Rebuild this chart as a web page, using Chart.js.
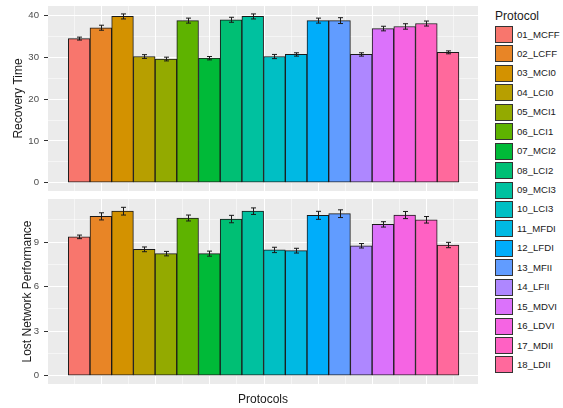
<!DOCTYPE html>
<html>
<head>
<meta charset="utf-8">
<script src="https://cdn.jsdelivr.net/npm/chart.js@4/dist/chart.umd.min.js"></script>
<style>
  body { margin: 0; background: #fff; }
  #wrap { position: relative; width: 563px; height: 408px; font-family: "Liberation Sans", Arial, sans-serif; }
  #topChart { position: absolute; left: 0; top: 0; }
  #bottomChart { position: absolute; left: 0; top: 195px; }
  .lg-title { position: absolute; left: 495px; top: 9px; font-size: 12px; line-height: 14px; color: #1a1a1a; }
  .lg-key { position: absolute; left: 495px; width: 18px; height: 17px; box-sizing: border-box; border: 1px solid #333; }
  .lg-label { position: absolute; left: 517px; font-size: 9.6px; line-height: 12px; color: #1a1a1a; white-space: nowrap; }
</style>
</head>
<body>
<div id="wrap">
  <canvas id="topChart" width="490" height="195"></canvas>
  <canvas id="bottomChart" width="490" height="213"></canvas>
  <div id="legend"></div>
</div>
<script>
// datos
const protocols = ['01_MCFF', '02_LCFF', '03_MCI0', '04_LCI0', '05_MCI1', '06_LCI1', '07_MCI2', '08_LCI2', '09_MCI3',
  '10_LCI3', '11_MFDI', '12_LFDI', '13_MFII', '14_LFII', '15_MDVI', '16_LDVI', '17_MDII', '18_LDII'];
const recoveryTime = [34.5, 37.1, 39.8, 30.2, 29.6, 38.8, 29.8, 39.0, 39.8, 30.2, 30.7, 38.8, 38.8, 30.7, 36.9, 37.4, 38.1, 31.2];
const recoveryErr = [0.35, 0.6, 0.6, 0.45, 0.45, 0.6, 0.4, 0.6, 0.6, 0.5, 0.4, 0.6, 0.7, 0.4, 0.55, 0.65, 0.6, 0.35];
const lostPerf = [9.35, 10.73, 11.08, 8.51, 8.22, 10.62, 8.22, 10.55, 11.08, 8.47, 8.42, 10.8, 10.91, 8.75, 10.19, 10.82, 10.5, 8.8];
const lostErr = [0.12, 0.24, 0.26, 0.16, 0.15, 0.2, 0.17, 0.25, 0.22, 0.18, 0.16, 0.27, 0.26, 0.15, 0.18, 0.24, 0.22, 0.18];

// ticks (mayores y menores, como en ggplot)
const xGridMajor = [2.02, 4.52, 7.02, 9.52, 12.02, 14.52, 17.02];
const xGridMinor = [0.77, 3.27, 5.77, 8.27, 10.77, 13.27, 15.77, 18.27];
const recoveryTicks = [0, 5, 10, 15, 20, 25, 30, 35, 40];
const recoveryMajor = [0, 10, 20, 30, 40];
const lostTicks = [0, 1.5, 3, 4.5, 6, 7.5, 9, 10.5];
const lostMajor = [0, 3, 6, 9];

Chart.defaults.font.family = '"Liberation Sans", Arial, sans-serif';

// paleta hue de ggplot (hcl, c=100, l=65)
function hclToHex(h, c, l) {
  const hr = h * Math.PI / 180;
  const U = c * Math.cos(hr), V = c * Math.sin(hr);
  const Y = Math.pow((l + 16) / 116, 3);
  const Xn = 0.95047, Yn = 1, Zn = 1.08883;
  const den = Xn + 15 * Yn + 3 * Zn;
  const un = 4 * Xn / den, vn = 9 * Yn / den;
  const u = U / (13 * l) + un, v = V / (13 * l) + vn;
  const X = Y * 9 * u / (4 * v);
  const Z = Y * (12 - 3 * u - 20 * v) / (4 * v);
  const lin = [
    3.2404542 * X - 1.5371385 * Y - 0.4985314 * Z,
    -0.9692660 * X + 1.8760108 * Y + 0.0415560 * Z,
    0.0556434 * X - 0.2040259 * Y + 1.0572252 * Z
  ];
  return '#' + lin.map(cv => {
    let g = cv <= 0.0031308 ? 12.92 * cv : 1.055 * Math.pow(cv, 1 / 2.4) - 0.055;
    g = Math.min(1, Math.max(0, g));
    return Math.round(g * 255).toString(16).padStart(2, '0');
  }).join('');
}
const palette = protocols.map((_, i) => hclToHex(15 + i * 360 / protocols.length, 100, 65));

const panelBg = {
  id: 'panelBg',
  beforeDraw(chart) {
    const { ctx, chartArea: a } = chart;
    ctx.save();
    ctx.fillStyle = '#EBEBEB';
    ctx.fillRect(a.left, a.top, a.right - a.left, a.bottom - a.top);
    ctx.restore();
  }
};

const errorBars = {
  id: 'errorBars',
  afterDatasetsDraw(chart) {
    const { ctx, scales: { x, y } } = chart;
    const ds = chart.data.datasets[0];
    ctx.save();
    ctx.strokeStyle = '#1a1a1a';
    ctx.lineWidth = 1;
    ds.data.forEach((p, i) => {
      const e = ds.errors[i];
      const px = Math.round(x.getPixelForValue(p.x)) + 0.5;
      const y1 = y.getPixelForValue(p.y - e);
      const y2 = y.getPixelForValue(p.y + e);
      ctx.beginPath();
      ctx.moveTo(px, y1); ctx.lineTo(px, y2);
      ctx.moveTo(px - 2.5, y1); ctx.lineTo(px + 2.5, y1);
      ctx.moveTo(px - 2.5, y2); ctx.lineTo(px + 2.5, y2);
      ctx.stroke();
    });
    ctx.restore();
  }
};

function makePanel(canvasId, values, errs, yMin, yMax, yTicks, yMajor, yTitle, titlePad, showXTitle, padding) {
  const isMajorY = v => yMajor.includes(v);
  const xTicks = xGridMinor.concat(xGridMajor).sort((a, b) => a - b);
  return new Chart(document.getElementById(canvasId), {
    type: 'bar',
    data: {
      datasets: [{
        data: values.map((v, i) => ({ x: i + 1, y: v })),
        errors: errs,
        backgroundColor: palette,
        borderColor: '#1a1a1a',
        borderWidth: 1,
        borderSkipped: false,
        barPercentage: 1,
        categoryPercentage: 1
      }]
    },
    options: {
      responsive: false,
      animation: false,
      layout: { padding: padding },
      plugins: { legend: { display: false }, tooltip: { enabled: false } },
      scales: {
        x: {
          type: 'linear',
          min: -0.435,
          max: 19.38,
          offset: false,
          afterBuildTicks: s => { s.ticks = xTicks.map(v => ({ value: v })); },
          afterFit: s => { s.height = showXTitle ? 24 : 0; s.paddingLeft = 0; s.paddingRight = 0; },
          grid: {
            color: '#ffffff',
            lineWidth: c => xGridMajor.includes(c.tick.value) ? 1 : 0.5,
            drawTicks: false,
            offset: false
          },
          border: { display: false },
          ticks: { display: false },
          title: {
            display: showXTitle,
            text: 'Protocols',
            color: '#1a1a1a',
            font: { size: 12 },
            padding: { top: 0, bottom: 1 }
          }
        },
        y: {
          min: yMin,
          max: yMax,
          afterBuildTicks: s => { s.ticks = yTicks.map(v => ({ value: v })); },
          afterFit: s => { s.width = 48; s.paddingTop = 0; s.paddingBottom = 0; },
          grid: {
            color: '#ffffff',
            lineWidth: c => isMajorY(c.tick.value) ? 1 : 0.5,
            tickColor: c => isMajorY(c.tick.value) ? '#333333' : 'rgba(0,0,0,0)',
            tickLength: 4,
            tickWidth: 1
          },
          border: { display: false },
          ticks: {
            color: '#4D4D4D',
            font: { size: 9.6 },
            padding: 5,
            callback: v => isMajorY(v) ? String(v) : ''
          },
          title: {
            display: true,
            text: yTitle,
            color: '#1a1a1a',
            font: { size: 12 },
            padding: { top: titlePad, bottom: 0 }
          }
        }
      }
    },
    plugins: [panelBg, errorBars]
  });
}

makePanel('topChart', recoveryTime, recoveryErr, -2.0, 42.3, recoveryTicks, recoveryMajor,
  'Recovery Time', 11, false, { left: 0, right: 12, top: 6, bottom: 4 });
makePanel('bottomChart', lostPerf, lostErr, -0.56, 11.9, lostTicks, lostMajor,
  'Lost Network Performance', 20, true, { left: 0, right: 12, top: 4, bottom: 0 });

// leyenda
const legend = document.getElementById('legend');
const lgTitle = document.createElement('div');
lgTitle.className = 'lg-title';
lgTitle.textContent = 'Protocol';
legend.appendChild(lgTitle);
protocols.forEach((name, i) => {
  const top = 26 + i * 19.44;
  const key = document.createElement('div');
  key.className = 'lg-key';
  key.style.top = top + 'px';
  key.style.background = palette[i];
  legend.appendChild(key);
  const label = document.createElement('div');
  label.className = 'lg-label';
  label.style.top = (top + 8.5 - 6) + 'px';
  label.textContent = name;
  legend.appendChild(label);
});
</script>
</body>
</html>
